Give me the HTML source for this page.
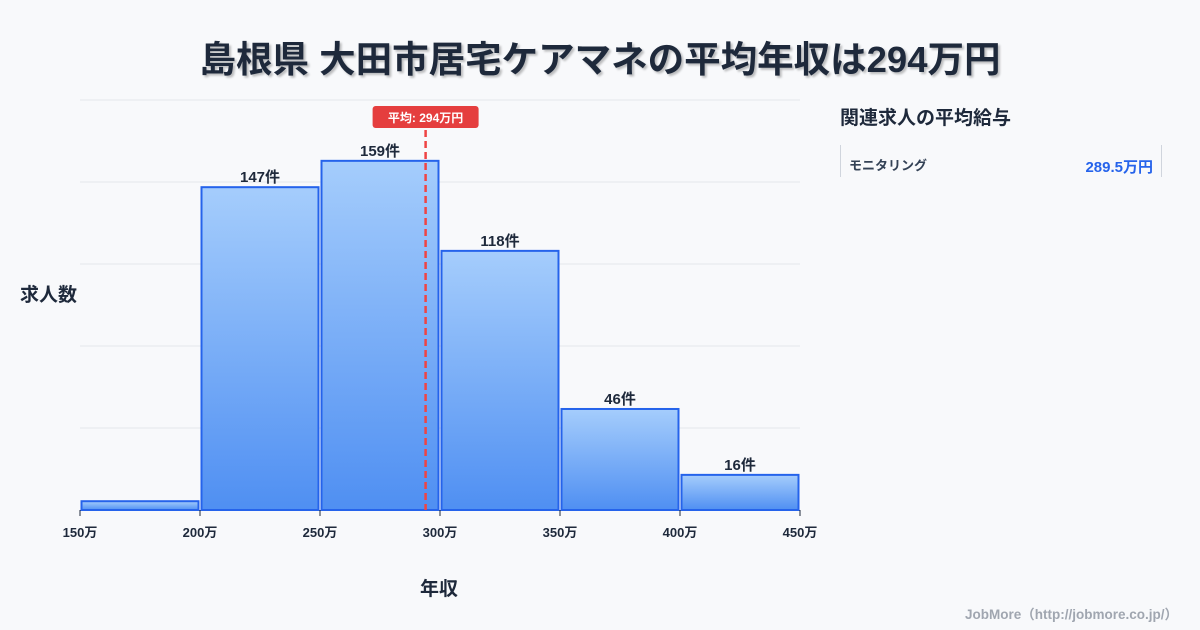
<!DOCTYPE html>
<html><head><meta charset="utf-8"><style>
body{margin:0;width:1200px;height:630px;background:#f8f9fb;font-family:"Liberation Sans","Noto Sans CJK JP",sans-serif;overflow:hidden;position:relative}
.t{position:absolute;white-space:nowrap}
</style></head><body>
<div class="t" style="left:0;width:1200px;top:30px;text-align:center;font-size:36.5px;font-weight:bold;color:#1e293b;text-shadow:2px 2px 2px rgba(0,0,0,0.25)">島根県 大田市居宅ケアマネの平均年収は294万円</div>
<svg width="1200" height="630" style="position:absolute;left:0;top:0" id="chart">
<defs><linearGradient id="g" x1="0" y1="0" x2="0" y2="1"><stop offset="0" stop-color="#a5cdfc"/><stop offset="1" stop-color="#4f8ff2"/></linearGradient></defs>
</svg>
<div class="t" style="left:20px;top:280px;font-size:19px;font-weight:bold;color:#1e293b">求人数</div>
<div class="t" style="left:420px;top:574px;font-size:19px;font-weight:bold;color:#1e293b">年収</div>
<div class="t" style="left:840px;top:103px;font-size:19px;font-weight:bold;color:#1e293b">関連求人の平均給与</div>
<div style="position:absolute;left:840px;top:145px;width:320px;height:32px;border-left:1px solid #d0d5dd;border-right:1px solid #d0d5dd">
<span class="t" style="left:8px;top:10px;font-size:13px;font-weight:bold;color:#334155">モニタリング</span>
<span class="t" style="right:8px;top:11px;font-size:15px;font-weight:bold;color:#2563eb">289.5万円</span>
</div>
<div class="t" style="right:22px;top:603px;font-size:13.5px;font-weight:bold;color:#a0a6b0">JobMore（http://jobmore.co.jp/）</div>
<script>
const binStarts=[150,200,250,300,350,400];
const binWidth=50;
const counts=[4,147,159,118,46,16];
const showLabels=[false,true,true,true,true,true];
const xTicks=[150,200,250,300,350,400,450];
const avgValue=294;
const svg=document.getElementById('chart');
const NS='http://www.w3.org/2000/svg';
const X0=80,X1=800,Y0=510,Y1=100,xmin=150,xmax=450,ymax=186.7;
const xs=v=>X0+(v-xmin)/(xmax-xmin)*(X1-X0);
const ys=v=>Y0-v/ymax*(Y0-Y1);
function mk(t,a){const e=document.createElementNS(NS,t);for(const k in a)e.setAttribute(k,a[k]);svg.appendChild(e);return e;}
for(let i=0;i<=5;i++){const y=Y1+i*(Y0-Y1)/5;const g=mk('line',{x1:X0,x2:X1,y1:y,y2:y,stroke:'#e5e7eb','stroke-width':1});

}
counts.forEach((c,i)=>{const xa=xs(binStarts[i])+1.5,xb=xs(binStarts[i]+binWidth)-1.5;const y=ys(c);
const r=mk('rect',{x:xa,y:y,width:xb-xa,height:Y0-y,fill:'url(#g)',stroke:'#2563eb','stroke-width':2});


if(showLabels[i]){const t=mk('text',{x:(xa+xb)/2,y:y-5,'text-anchor':'middle','font-size':15,'font-weight':'bold',fill:'#1e293b'});t.textContent=c+'件';

}});
xTicks.forEach(v=>{const x=xs(v);const l=mk('line',{x1:x,x2:x,y1:Y0,y2:Y0+6,stroke:'#1e293b','stroke-width':1});


const t=mk('text',{x:x,y:Y0+27,'text-anchor':'middle','font-size':13,'font-weight':'bold',fill:'#1e293b'});t.textContent=v+'万';

});
const ax=xs(avgValue);
const al=mk('line',{x1:ax,x2:ax,y1:130,y2:Y0,stroke:'#ef4444','stroke-width':2.5,'stroke-dasharray':'7,4'});


const ab=mk('rect',{x:ax-53,y:106,width:106,height:22,rx:3,fill:'#e53e3e'});


const at=mk('text',{x:ax,y:122,'text-anchor':'middle','font-size':12,'font-weight':'bold',fill:'#fff'});at.textContent='平均: '+avgValue+'万円';


</script>
</body></html>
